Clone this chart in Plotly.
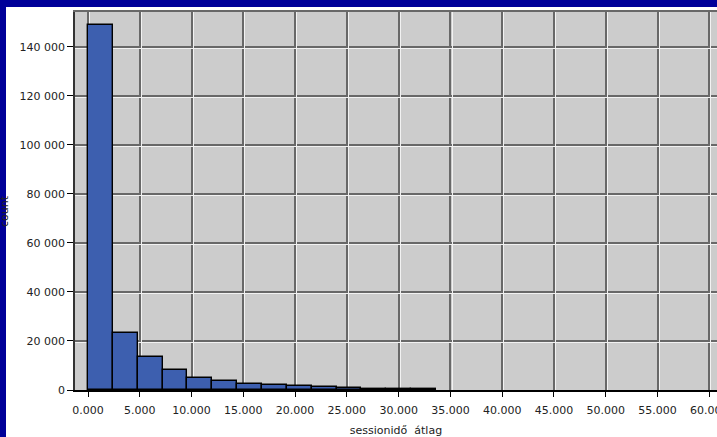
import plotly.graph_objects as go

# ---- data ----
bin_width = 2400
bin_starts = [0, 2400, 4800, 7200, 9600, 12000, 14400, 16800, 19200, 21600, 24000, 26400, 28800, 31200]
counts = [149000, 23300, 13400, 8200, 5100, 3600, 2600, 2100, 1600, 1100, 950, 450, 380, 300]

x_tickvals = [0, 5000, 10000, 15000, 20000, 25000, 30000, 35000, 40000, 45000, 50000, 55000, 60000]
x_ticktext = ["0.000", "5.000", "10.000", "15.000", "20.000", "25.000", "30.000",
              "35.000", "40.000", "45.000", "50.000", "55.000", "60.000"]
y_tickvals = [0, 20000, 40000, 60000, 80000, 100000, 120000, 140000]
y_ticktext = ["0", "20 000", "40 000", "60 000", "80 000", "100 000", "120 000", "140 000"]

x_title = "sessionidő\u00a0 átlag"
y_title = "count"

# ---- layout geometry ----
W, H = 717, 437
ML, MR, MT, MB = 75, 0, 12, 47
plot_w = W - ML - MR
plot_h = H - MT - MB
x_range = [-1255, 60745]
y_range = [0, 154200]
x_per_px = (x_range[1] - x_range[0]) / plot_w
y_per_px = (y_range[1] - y_range[0]) / plot_h
off = 1.6  # px offset for the white highlight of the grid

centers = [s + bin_width / 2 for s in bin_starts]

fig = go.Figure()
fig.add_trace(go.Bar(
    x=centers, y=counts, width=[bin_width] * len(counts),
    marker=dict(color="#3D5FAF", line=dict(color="#000000", width=1.4)),
    showlegend=False, hoverinfo="skip",
))
# empty helper trace to register the highlight-grid axes
fig.add_trace(go.Scatter(x=[], y=[], xaxis="x2", yaxis="y2", showlegend=False))

font = dict(family="DejaVu Sans, Verdana, sans-serif", size=11, color="#222222")
grid_dark = "#686868"

fig.update_layout(
    width=W, height=H,
    margin=dict(l=ML, r=MR, t=MT, b=MB, pad=0, autoexpand=False),
    paper_bgcolor="#FFFFFF",
    plot_bgcolor="#CCCCCC",
    font=font,
    bargap=0,
    xaxis=dict(
        range=x_range, tickvals=x_tickvals, ticktext=x_ticktext,
        showgrid=True, gridcolor=grid_dark, gridwidth=1.5,
        showline=True, linecolor="#000000", linewidth=2,
        ticks="outside", ticklen=5, tickcolor="#000000", tickwidth=1,
        ticklabelstandoff=4, ticklabeloverflow="allow",
        zeroline=False, tickfont=font, automargin=False,
        title=dict(text=x_title, font=font, standoff=12),
    ),
    yaxis=dict(
        range=y_range, tickvals=y_tickvals, ticktext=y_ticktext,
        showgrid=True, gridcolor=grid_dark, gridwidth=1.5,
        showline=True, linecolor="#333333", linewidth=1.5,
        ticks="outside", ticklen=6, tickcolor="#000000", tickwidth=1,
        zeroline=False, tickfont=font, automargin=False,
    ),
    xaxis2=dict(
        overlaying="x", side="top",
        range=[x_range[0] - off * x_per_px, x_range[1] - off * x_per_px],
        tickvals=x_tickvals, showticklabels=False, ticks="",
        showgrid=True, gridcolor="#F2F2F2", gridwidth=1,
        showline=True, linecolor=grid_dark, linewidth=1.5, zeroline=False,
        automargin=False,
    ),
    yaxis2=dict(
        overlaying="y", side="right",
        range=[y_range[0] + off * y_per_px, y_range[1] + off * y_per_px],
        tickvals=y_tickvals, showticklabels=False, ticks="",
        showgrid=True, gridcolor="#F2F2F2", gridwidth=1,
        showline=False, zeroline=False, automargin=False,
    ),
)

# y-axis title, mostly hidden at the left edge
fig.add_annotation(
    text=y_title, textangle=-90, showarrow=False,
    xref="paper", yref="paper",
    x=(4 - ML) / plot_w, y=(H - MB - 211) / plot_h,
    xanchor="center", yanchor="middle", font=font,
)

# dark-blue slide frame strips (top and left)
frame_blue = "#000099"
fig.add_shape(type="rect", xref="paper", yref="paper", layer="above",
              x0=(0 - ML) / plot_w, x1=(W - ML) / plot_w,
              y0=(H - MB - 7) / plot_h, y1=(H - MB) / plot_h + 0.01,
              fillcolor=frame_blue, line=dict(width=0))
fig.add_shape(type="rect", xref="paper", yref="paper", layer="above",
              x0=(0 - ML) / plot_w - 0.01, x1=(6 - ML) / plot_w,
              y0=(0 - MB) / plot_h - 0.01, y1=(H - MB) / plot_h + 0.01,
              fillcolor=frame_blue, line=dict(width=0))

fig.write_html(
    "out.html",
    config={"displayModeBar": False},
    post_script="document.body.style.margin='0';document.body.style.overflow='hidden';",
)
